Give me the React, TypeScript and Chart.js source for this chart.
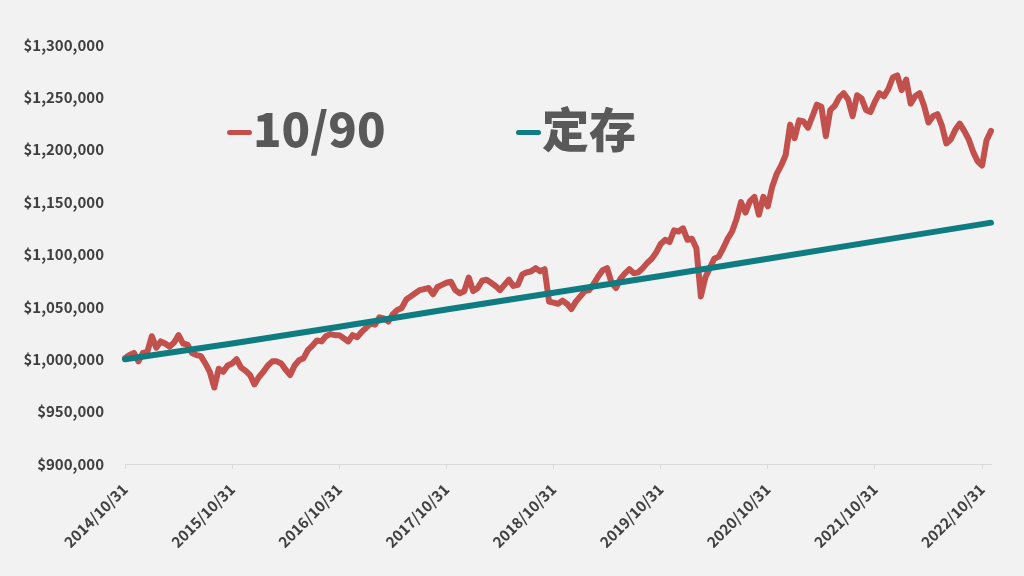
import { useEffect, useRef } from 'react';
import { Chart, registerables } from 'chart.js';

Chart.register(...registerables);

const FONT = '"Noto Sans CJK TC", "Noto Sans CJK SC", "Noto Sans", sans-serif';

// Series names
const SERIES_RED = '10/90';
const SERIES_TEAL = '定存';

// Y axis ticks
const Y_MIN = 900000;
const Y_MAX = 1300000;
const Y_STEP = 50000;

// Semi-monthly category labels (2014/10/31 ... 2022/11/30)
const START_LABEL = '2014/10/31';
const MONTHS = [
  '2014/11', '2014/12',
  '2015/01', '2015/02', '2015/03', '2015/04', '2015/05', '2015/06', '2015/07', '2015/08', '2015/09', '2015/10', '2015/11', '2015/12',
  '2016/01', '2016/02', '2016/03', '2016/04', '2016/05', '2016/06', '2016/07', '2016/08', '2016/09', '2016/10', '2016/11', '2016/12',
  '2017/01', '2017/02', '2017/03', '2017/04', '2017/05', '2017/06', '2017/07', '2017/08', '2017/09', '2017/10', '2017/11', '2017/12',
  '2018/01', '2018/02', '2018/03', '2018/04', '2018/05', '2018/06', '2018/07', '2018/08', '2018/09', '2018/10', '2018/11', '2018/12',
  '2019/01', '2019/02', '2019/03', '2019/04', '2019/05', '2019/06', '2019/07', '2019/08', '2019/09', '2019/10', '2019/11', '2019/12',
  '2020/01', '2020/02', '2020/03', '2020/04', '2020/05', '2020/06', '2020/07', '2020/08', '2020/09', '2020/10', '2020/11', '2020/12',
  '2021/01', '2021/02', '2021/03', '2021/04', '2021/05', '2021/06', '2021/07', '2021/08', '2021/09', '2021/10', '2021/11', '2021/12',
  '2022/01', '2022/02', '2022/03', '2022/04', '2022/05', '2022/06', '2022/07', '2022/08', '2022/09', '2022/10', '2022/11',
];
const MONTH_END = { '01': 31, '02': 28, '03': 31, '04': 30, '05': 31, '06': 30, '07': 31, '08': 31, '09': 30, '10': 31, '11': 30, '12': 31 };

// Tick labels shown on the x axis
const X_TICKS = ['2014/10/31', '2015/10/31', '2016/10/31', '2017/10/31', '2018/10/31', '2019/10/31', '2020/10/31', '2021/10/31', '2022/10/31'];

// 10/90 portfolio value, semi-monthly
const red2015 = [1001000, 1004000, 1006000, 998000, 1006000, 1007000, 1022000, 1011000, 1017000, 1015000, 1012000, 1016000,
  1023000, 1015000, 1014000, 1006000, 1004000, 1003000, 996000, 988000, 973000, 991000, 988000, 994000];
const red2016 = [996000, 1000000, 992000, 989000, 985000, 976000, 983000, 988000, 994000, 998000, 998000, 996000,
  990000, 985000, 994000, 999000, 1001000, 1009000, 1013000, 1018000, 1017000, 1022000, 1024000, 1023000];
const red2017 = [1023000, 1020000, 1017000, 1023000, 1021000, 1026000, 1030000, 1034000, 1033000, 1040000, 1039000, 1036000,
  1043000, 1047000, 1049000, 1057000, 1060000, 1063000, 1066000, 1067000, 1068000, 1062000, 1069000, 1071000];
const red2018 = [1073000, 1074000, 1066000, 1063000, 1065000, 1078000, 1065000, 1068000, 1075000, 1076000, 1073000, 1070000,
  1066000, 1071000, 1076000, 1070000, 1071000, 1081000, 1083000, 1084000, 1087000, 1084000, 1086000, 1055000];
const red2019 = [1054000, 1053000, 1056000, 1053000, 1048000, 1055000, 1060000, 1065000, 1066000, 1072000, 1079000, 1085000,
  1087000, 1073000, 1068000, 1077000, 1082000, 1086000, 1082000, 1083000, 1087000, 1092000, 1096000, 1102000];
const red2020 = [1110000, 1114000, 1112000, 1123000, 1122000, 1125000, 1114000, 1115000, 1106000, 1060000, 1078000, 1087000,
  1096000, 1098000, 1106000, 1115000, 1122000, 1134000, 1150000, 1140000, 1151000, 1155000, 1138000, 1155000];
const red2021 = [1146000, 1165000, 1177000, 1185000, 1195000, 1224000, 1211000, 1228000, 1227000, 1221000, 1232000, 1243000,
  1241000, 1213000, 1238000, 1242000, 1250000, 1254000, 1248000, 1232000, 1252000, 1249000, 1238000, 1236000];
const red2022 = [1246000, 1254000, 1251000, 1258000, 1269000, 1271000, 1257000, 1267000, 1244000, 1251000, 1254000, 1242000,
  1226000, 1232000, 1234000, 1223000, 1206000, 1210000, 1219000, 1225000, 1218000, 1210000, 1198000, 1189000];
const red2023 = [1185000, 1209000, 1218000];

// Time deposit value
const tealDates = ['2014/10/31', '2015/10/31', '2016/10/31', '2017/10/31', '2018/10/31', '2019/10/31', '2020/10/31', '2021/10/31', '2022/10/31', '2022/11/30'];
const tealValues = [1000000, 1015000, 1031000, 1047500, 1063500, 1079500, 1096000, 1112500, 1129000, 1130400];

const RED = '#c2504d';
const TEAL = '#0e7c80';

function buildLabels(): string[] {
  const out = [START_LABEL];
  for (const m of MONTHS) {
    const mm = m.slice(5);
    out.push(`${m}/15`);
    out.push(`${m}/${MONTH_END[mm]}`);
  }
  return out;
}

const bigLegend = {
  id: 'bigLegend',
  afterDatasetsDraw(chart: any) {
    const ctx = chart.ctx;
    const items = [
      { x: 227, color: RED, label: chart.data.datasets[1].label },
      { x: 516, color: TEAL, label: chart.data.datasets[0].label },
    ];
    ctx.save();
    ctx.font = `900 47px ${FONT}`;
    ctx.fillStyle = '#595959';
    ctx.textBaseline = 'alphabetic';
    ctx.textAlign = 'left';
    for (const it of items) {
      ctx.strokeStyle = it.color;
      ctx.lineWidth = 5;
      ctx.lineCap = 'round';
      ctx.beginPath();
      ctx.moveTo(it.x + 2.5, 132.5);
      ctx.lineTo(it.x + 22.5, 132.5);
      ctx.stroke();
      ctx.fillText(it.label, it.x + 26, 147);
    }
    ctx.restore();
  },
};

export default function App() {
  const ref = useRef<HTMLCanvasElement | null>(null);

  useEffect(() => {
    if (!ref.current) return;
    const labels = buildLabels();
    const redValues = [...red2015, ...red2016, ...red2017, ...red2018, ...red2019, ...red2020, ...red2021, ...red2022, ...red2023];
    const chart = new Chart(ref.current, {
      type: 'line',
      data: {
        labels,
        datasets: [
          {
            label: SERIES_TEAL,
            data: tealDates.map((d, i) => ({ x: d, y: tealValues[i] })),
            borderColor: TEAL,
            backgroundColor: TEAL,
            borderWidth: 6,
            pointRadius: 0,
            tension: 0,
            borderCapStyle: 'round',
            borderJoinStyle: 'round',
            order: 0,
          },
          {
            label: SERIES_RED,
            data: redValues,
            borderColor: RED,
            backgroundColor: RED,
            borderWidth: 6,
            pointRadius: 0,
            tension: 0,
            borderCapStyle: 'round',
            borderJoinStyle: 'round',
            order: 1,
          },
        ],
      },
      options: {
        animation: false,
        responsive: false,
        maintainAspectRatio: false,
        layout: { padding: { top: 45, right: 33, left: 0, bottom: 0 } },
        plugins: {
          legend: { display: false },
          tooltip: { enabled: false },
        },
        scales: {
          x: {
            type: 'category',
            offset: false,
            grid: { drawOnChartArea: false, drawTicks: true, tickLength: 5, color: '#d9d9d9', lineWidth: 1 },
            border: { display: true, color: '#d9d9d9', width: 1 },
            ticks: {
              autoSkip: false,
              maxRotation: 45,
              minRotation: 45,
              padding: 11,
              color: '#404040',
              font: { family: FONT, size: 15, weight: 'bold' },
              callback: function (this: any, value: any) {
                const lab = this.getLabelForValue(value);
                return X_TICKS.includes(lab) ? lab : null;
              },
            },
            afterFit: (scale: any) => { scale.height = 112; },
          },
          y: {
            min: Y_MIN,
            max: Y_MAX,
            grid: { display: false, drawTicks: false },
            border: { display: false },
            ticks: {
              stepSize: Y_STEP,
              padding: 21,
              color: '#404040',
              font: { family: FONT, size: 15, weight: 'bold' },
              callback: (v: any) => '$' + Number(v).toLocaleString('en-US'),
            },
            afterFit: (scale: any) => { scale.width = 125; },
          },
        },
      },
      plugins: [bigLegend],
    });
    return () => chart.destroy();
  }, []);

  return (
    <div style={{ position: 'fixed', left: 0, top: 0, width: 1024, height: 576, background: '#f2f2f2' }}>
      <canvas ref={ref} width={1024} height={576} style={{ display: 'block', width: 1024, height: 576 }} />
    </div>
  );
}
